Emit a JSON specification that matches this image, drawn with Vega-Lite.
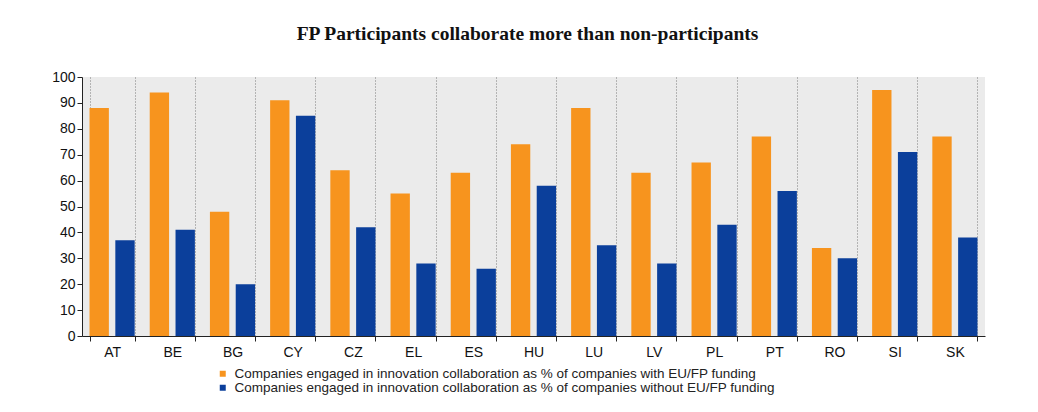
{
  "$schema": "https://vega.github.io/schema/vega-lite/v6.json",
  "width": 903,
  "height": 259,
  "autosize": {"type": "none"},
  "padding": {"left": 82, "top": 77, "right": 53, "bottom": 76},
  "background": "#ffffff",
  "title": {
    "text": "FP Participants collaborate more than non-participants",
    "font": "Liberation Serif",
    "fontSize": 19.5,
    "fontWeight": "bold",
    "color": "#111111",
    "anchor": "middle",
    "offset": 26,
    "dx": -6
  },
  "data": {
    "values": [
      {"country": "AT", "series": "with", "value": 88},
      {"country": "AT", "series": "without", "value": 37},
      {"country": "BE", "series": "with", "value": 94},
      {"country": "BE", "series": "without", "value": 41},
      {"country": "BG", "series": "with", "value": 48},
      {"country": "BG", "series": "without", "value": 20},
      {"country": "CY", "series": "with", "value": 91},
      {"country": "CY", "series": "without", "value": 85},
      {"country": "CZ", "series": "with", "value": 64},
      {"country": "CZ", "series": "without", "value": 42},
      {"country": "EL", "series": "with", "value": 55},
      {"country": "EL", "series": "without", "value": 28},
      {"country": "ES", "series": "with", "value": 63},
      {"country": "ES", "series": "without", "value": 26},
      {"country": "HU", "series": "with", "value": 74},
      {"country": "HU", "series": "without", "value": 58},
      {"country": "LU", "series": "with", "value": 88},
      {"country": "LU", "series": "without", "value": 35},
      {"country": "LV", "series": "with", "value": 63},
      {"country": "LV", "series": "without", "value": 28},
      {"country": "PL", "series": "with", "value": 67},
      {"country": "PL", "series": "without", "value": 43},
      {"country": "PT", "series": "with", "value": 77},
      {"country": "PT", "series": "without", "value": 56},
      {"country": "RO", "series": "with", "value": 34},
      {"country": "RO", "series": "without", "value": 30},
      {"country": "SI", "series": "with", "value": 95},
      {"country": "SI", "series": "without", "value": 71},
      {"country": "SK", "series": "with", "value": 77},
      {"country": "SK", "series": "without", "value": 38}
    ]
  },
  "mark": {"type": "bar"},
  "encoding": {
    "x": {
      "field": "country",
      "type": "nominal",
      "sort": null,
      "scale": {"paddingInner": 0.25, "paddingOuter": 0.125},
      "axis": {
        "title": null,
        "labelAngle": 0,
        "labelFont": "Liberation Sans",
        "labelFontSize": 14,
        "labelColor": "#111111",
        "labelPadding": 4,
        "tickBand": "extent",
        "tickSize": 5,
        "tickColor": "#222222",
        "domainColor": "#222222",
        "grid": true,
        "gridColor": "#7a7a7a",
        "gridDash": [1, 2],
        "gridWidth": 1
      }
    },
    "xOffset": {
      "field": "series",
      "type": "nominal",
      "scale": {"paddingInner": 0.25}
    },
    "y": {
      "field": "value",
      "type": "quantitative",
      "scale": {"domain": [0, 100], "nice": false},
      "axis": {
        "title": null,
        "values": [0, 10, 20, 30, 40, 50, 60, 70, 80, 90, 100],
        "labelFont": "Liberation Sans",
        "labelFontSize": 14,
        "labelColor": "#111111",
        "labelPadding": 2,
        "tickSize": 5,
        "tickColor": "#222222",
        "domainColor": "#222222",
        "grid": false
      }
    },
    "color": {
      "field": "series",
      "type": "nominal",
      "scale": {"domain": ["with", "without"], "range": ["#F7941E", "#0B3F9B"]},
      "legend": {
        "title": null,
        "orient": "none",
        "legendX": 134,
        "legendY": 290,
        "direction": "vertical",
        "symbolType": "square",
        "symbolSize": 36,
        "symbolStrokeWidth": 0,
        "labelFont": "Liberation Sans",
        "labelFontSize": 13.5,
        "labelColor": "#222222",
        "labelLimit": 800,
        "rowPadding": -2,
        "labelOffset": 5,
        "labelExpr": "datum.value == 'with' ? 'Companies engaged in innovation collaboration as % of companies with EU/FP funding' : 'Companies engaged in innovation collaboration as % of companies without EU/FP funding'"
      }
    }
  },
  "config": {
    "view": {"fill": "#ebebeb", "stroke": null}
  }
}
